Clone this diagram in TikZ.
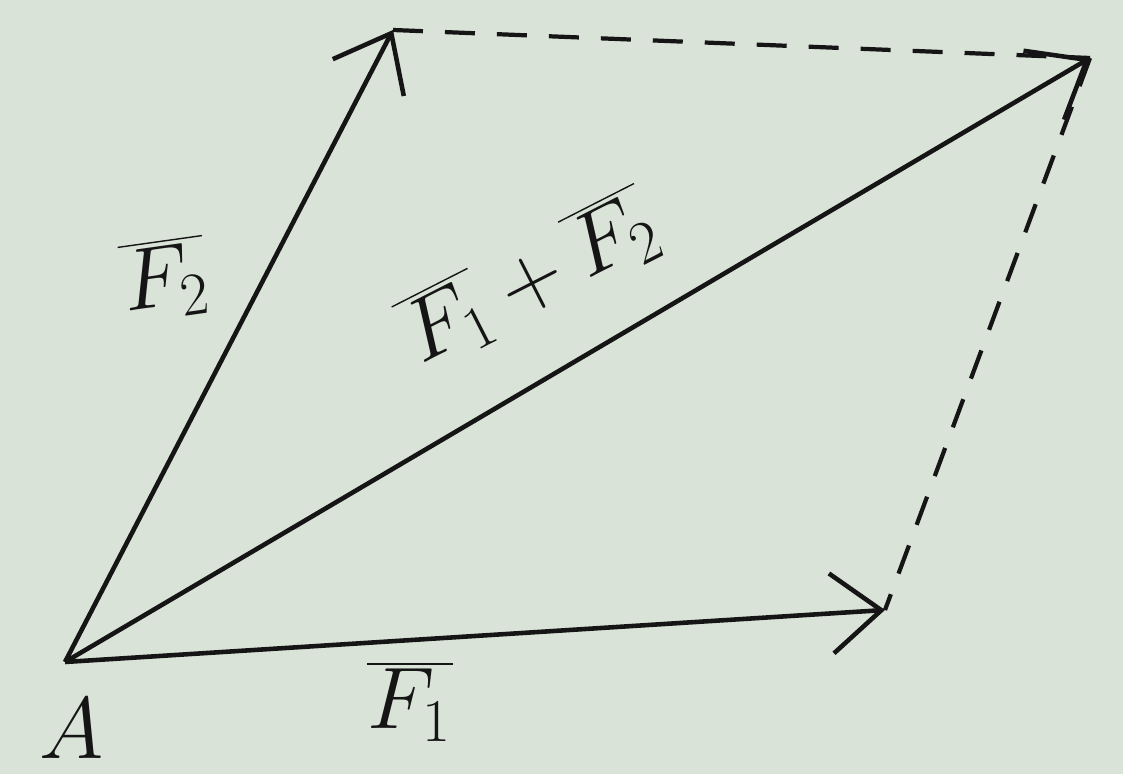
\documentclass[tikz,border=0pt]{standalone}
\usetikzlibrary{arrows.meta}
\definecolor{paper}{HTML}{D9E3D7}
\definecolor{ink}{HTML}{151515}
\begin{document}
\begin{tikzpicture}[x=1cm,y=1cm,
  vec/.style={draw=ink,line width=1.3pt,-{Straight Barb[length=5mm,width=8mm,line width=1.3pt]}},
  aux/.style={draw=ink,line width=1.2pt,dash pattern=on 3mm off 2.2mm},
  lbl/.style={text=ink,font=\fontsize{26}{30}\selectfont,inner sep=0pt}]
\fill[paper] (0,0) rectangle (11.23,7.74);
\useasboundingbox (0,0) rectangle (11.23,7.74);
\coordinate (A) at (0.65,1.12);
\coordinate (F1) at (8.85,1.64);
\coordinate (F2) at (3.93,7.44);
\coordinate (R) at (10.90,7.16);
\draw[aux] (F2) -- (R);
\draw[aux] (R) -- (F1);
\draw[vec] (A) -- (F1);
\draw[vec] (A) -- (F2);
\draw[vec] (A) -- (R);
\node[lbl,rotate=8] (lF2) at (1.65,4.95) {$\overline{F_2}$};
\node[lbl,rotate=27] (lR) at (5.3,4.95) {$\overline{F_1}+\overline{F_2}$};
\node[lbl] (lF1) at (4.1,0.72) {$\overline{F_1}$};
\node[lbl] (lA) at (0.72,0.45) {$A$};
\end{tikzpicture}
\end{document}
